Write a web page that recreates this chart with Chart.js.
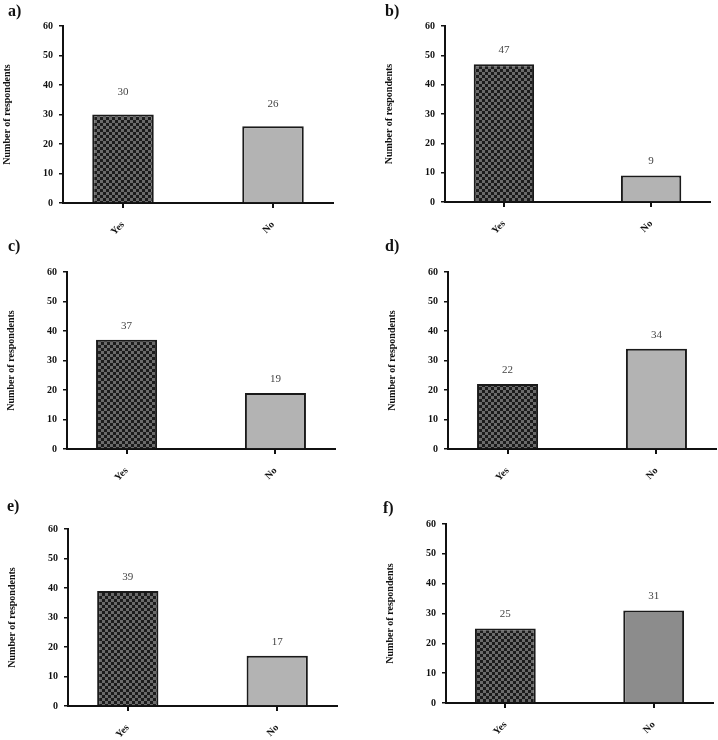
<!DOCTYPE html>
<html>
<head>
<meta charset="utf-8">
<script src="https://cdn.jsdelivr.net/npm/chart.js@4/dist/chart.umd.min.js"></script>
<style>
  html, body { margin: 0; padding: 0; background: #fff; overflow: hidden; }
  body { position: relative; width: 718px; height: 740px; }
  canvas { position: absolute; }
  .tag { position: absolute; font: bold 16px "Liberation Serif", serif; line-height: 16px; color: #111; }
</style>
</head>
<body>
<script>
// chart values
const categories = ["Yes", "No"];
const panelTags = ["a)", "b)", "c)", "d)", "e)", "f)"];
const yesCounts = [30, 47, 37, 22, 39, 25];
const noCounts = [26, 9, 19, 34, 17, 31];
const yMin = 0, yMax = 60, yStep = 10;
const yTitle = "Number of respondents";

// styles and layout (not data)
const noFills = ["#b3b3b3", "#b3b3b3", "#b3b3b3", "#b3b3b3", "#b3b3b3", "#8c8c8c"];
// axisX, top (60), zero line, right end, tag x, tag y, value label gap
const panels = [
    [63, 26, 203, 333, 8, 3, 22],
    [445, 26, 202, 710, 385, 3, 14],
    [67, 272, 449, 335, 8, 238, 14],
    [448, 272, 449, 716, 385, 238, 14],
    [68, 529, 706, 337, 7, 498, 14],
    [446, 524, 703, 713, 383, 500, 14]
];
const Y_AXIS_W = 62, X_AXIS_H = 40, PAD_TOP = 14, PAD_RIGHT = 2;

function checker() {
    const c = document.createElement("canvas");
    c.width = 6; c.height = 6;
    const g = c.getContext("2d");
    g.fillStyle = "#6b6b6b"; g.fillRect(0, 0, 6, 6);
    g.fillStyle = "#1c1c1c"; g.fillRect(0, 0, 3, 3); g.fillRect(3, 3, 3, 3);
    return g.createPattern(c, "repeat");
}

const valueLabels = {
    id: "valueLabels",
    afterDatasetsDraw(chart, args, opts) {
        const ctx = chart.ctx;
        const ds = chart.data.datasets[0];
        ctx.save();
        ctx.font = '11px "Liberation Serif", serif';
        ctx.fillStyle = "#444";
        ctx.textAlign = "center";
        ctx.textBaseline = "middle";
        chart.getDatasetMeta(0).data.forEach((bar, i) => {
            ctx.fillText(String(ds.data[i].y), bar.x, bar.y - opts.gap);
        });
        ctx.restore();
    }
};

const tickFont = { family: '"Liberation Serif", serif', size: 10, weight: "bold" };

panelTags.forEach((tag, p) => {
    const [axisX, top, zero, right, tagX, tagY, gap] = panels[p];
    const left = axisX - Y_AXIS_W;
    const cTop = top - PAD_TOP;
    const w = right + PAD_RIGHT - left;
    const h = zero + X_AXIS_H - cTop;

    const canvas = document.createElement("canvas");
    canvas.width = w; canvas.height = h;
    canvas.style.left = left + "px";
    canvas.style.top = cTop + "px";
    document.body.appendChild(canvas);

    const label = document.createElement("div");
    label.className = "tag";
    label.textContent = tag;
    label.style.left = tagX + "px";
    label.style.top = tagY + "px";
    document.body.appendChild(label);

    const values = [yesCounts[p], noCounts[p]];
    new Chart(canvas, {
        type: "bar",
        data: {
            datasets: [{
                data: values.map((v, i) => ({ x: i, y: v })),
                backgroundColor: [checker(), noFills[p]],
                borderColor: "#1a1a1a",
                borderWidth: 2,
                categoryPercentage: 1,
                barPercentage: 0.41
            }]
        },
        options: {
            responsive: false,
            animation: false,
            events: [],
            layout: { padding: { top: PAD_TOP, right: PAD_RIGHT, left: 0, bottom: 0 } },
            plugins: {
                legend: { display: false },
                tooltip: { enabled: false },
                valueLabels: { gap: gap }
            },
            scales: {
                x: {
                    type: "linear",
                    min: -0.4,
                    max: 1.4,
                    offset: false,
                    afterBuildTicks: (s) => { s.ticks = categories.map((c, i) => ({ value: i })); },
                    afterFit: (s) => { s.height = X_AXIS_H; },
                    border: { display: true, color: "#111", width: 2 },
                    grid: { display: true, offset: false, drawOnChartArea: false, drawTicks: true, tickLength: 5, color: "#111", lineWidth: 2 },
                    ticks: {
                        autoSkip: false,
                        minRotation: 45,
                        maxRotation: 45,
                        padding: 11,
                        color: "#111",
                        font: tickFont,
                        callback: (v) => categories[v]
                    }
                },
                y: {
                    min: yMin,
                    max: yMax,
                    afterFit: (s) => { s.width = Y_AXIS_W; },
                    border: { display: true, color: "#111", width: 2 },
                    grid: { display: true, drawOnChartArea: false, drawTicks: true, tickLength: 4, color: "#111", lineWidth: 1.5 },
                    ticks: { stepSize: yStep, padding: 6, color: "#111", font: tickFont },
                    title: {
                        display: true,
                        text: yTitle,
                        color: "#111",
                        font: tickFont,
                        padding: { top: 0, bottom: 0 }
                    }
                }
            }
        },
        plugins: [valueLabels]
    });
});
</script>
</body>
</html>
